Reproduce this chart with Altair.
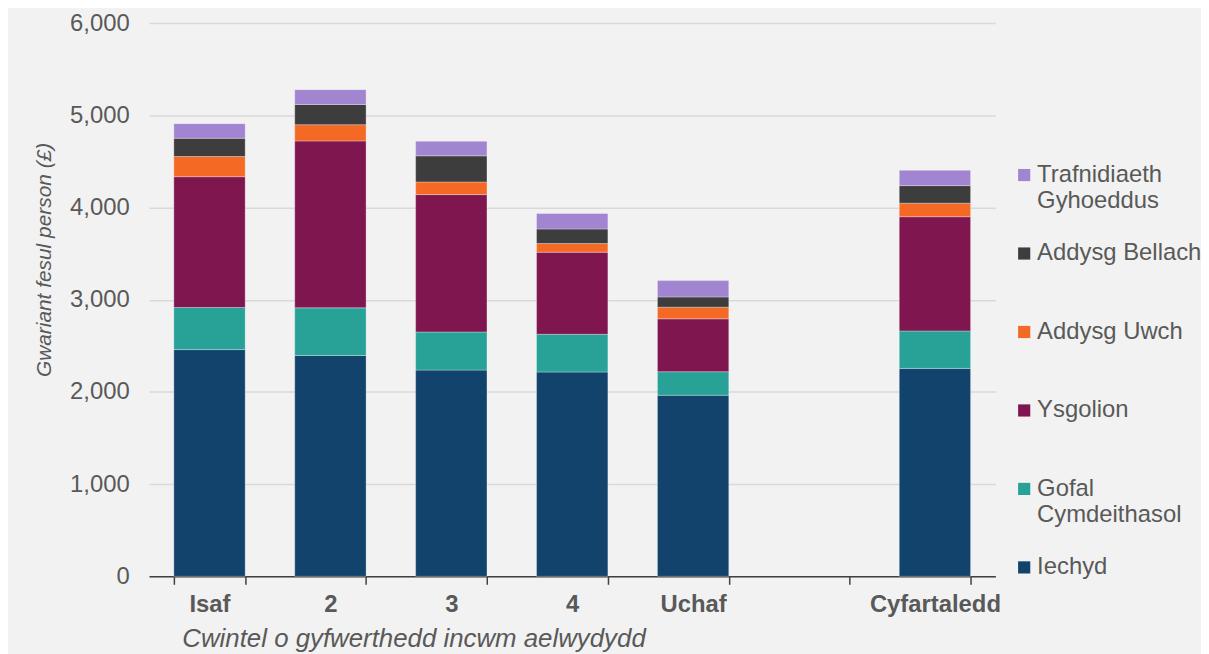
import altair as alt
import pandas as pd

categories = ["Isaf", "2", "3", "4", "Uchaf", "Cyfartaledd"]
x_domain = ["Isaf", "2", "3", "4", "Uchaf", " ", "Cyfartaledd"]

series_names = ["Iechyd", "Gofal Cymdeithasol", "Ysgolion", "Addysg Uwch",
                "Addysg Bellach", "Trafnidiaeth Gyhoeddus"]
iechyd = [2459, 2395, 2237, 2216, 1964, 2255]
gofal = [457, 517, 413, 409, 255, 406]
ysgolion = [1418, 1810, 1490, 890, 574, 1239]
addysg_uwch = [219, 176, 137, 94, 126, 147]
addysg_bellach = [198, 219, 283, 158, 111, 190]
trafnidiaeth = [158, 161, 158, 168, 177, 166]

colors = ["#12436d", "#28a197", "#801650", "#f46a25", "#3d3d3d", "#a285d1"]
y_ticks = [0, 1000, 2000, 3000, 4000, 5000, 6000]

series_values = [iechyd, gofal, ysgolion, addysg_uwch, addysg_bellach, trafnidiaeth]
rows = []
for si, (name, vals) in enumerate(zip(series_names, series_values)):
    for cat, v in zip(categories, vals):
        rows.append({"cat": cat, "series": name, "value": v, "order": si})
df = pd.DataFrame(rows)

FONT = "Liberation Sans"
GREY = "#595959"

legend_domain = list(reversed(series_names))
legend_range = list(reversed(colors))

label_expr = ("(datum.label == 'Trafnidiaeth Gyhoeddus' "
              "|| datum.label == 'Gofal Cymdeithasol') ? split(datum.label, ' ') "
              ": [datum.label, ' ']")

chart = alt.Chart(df).mark_bar(
    stroke="white", strokeWidth=0.6, strokeOpacity=0.5
).encode(
    x=alt.X("cat:N", sort=x_domain,
            scale=alt.Scale(domain=x_domain, paddingInner=0.41, paddingOuter=0.205),
            axis=alt.Axis(title="Cwintel o gyfwerthedd incwm aelwydydd",
                          labelAngle=0, labelFont=FONT, labelFontSize=24,
                          labelFontWeight="bold", labelColor=GREY, labelPadding=8,
                          tickBand="extent", ticks=True, tickSize=8, tickColor="#404040",
                          tickWidth=1.5, domainColor="#404040", domainWidth=1.5,
                          titleFont=FONT, titleFontSize=26, titleFontStyle="italic",
                          titleFontWeight="normal", titleColor=GREY,
                          titleAnchor="start", titleAlign="left", titleX=33,
                          titlePadding=10, grid=False)),
    y=alt.Y("value:Q", stack="zero",
            scale=alt.Scale(domain=[0, 6000], nice=False),
            axis=alt.Axis(title="Gwariant fesul person (£)", values=y_ticks,
                          format=",.0f", labelFont=FONT, labelFontSize=24,
                          labelColor=GREY, labelPadding=20, ticks=False,
                          domain=False, grid=True, gridColor="#d9d9d9",
                          gridWidth=1.5, titleFont=FONT, titleFontSize=21,
                          titleFontStyle="italic", titleFontWeight="normal",
                          titleColor=GREY, titleBaseline="middle",
                          titleX=-105, titleY=238)),
    color=alt.Color("series:N",
                    scale=alt.Scale(domain=legend_domain, range=legend_range),
                    legend=alt.Legend(title=None, orient="none",
                                      legendX=869, legendY=141,
                                      symbolType="square", symbolSize=150,
                                      symbolStrokeWidth=0, labelFont=FONT,
                                      labelFontSize=24, labelColor=GREY,
                                      labelOffset=1, rowPadding=29,
                                      labelLimit=300,
                                      labelExpr=label_expr)),
    order=alt.Order("order:Q", sort="ascending"),
    tooltip=["cat", "series", "value"],
).properties(
    width=852, height=557,
    background="#f2f2f2",
    autosize=alt.AutoSizeParams(type="none"),
    padding={"left": 142, "top": 13, "right": 207, "bottom": 76},
).configure_view(stroke=None)

chart.save("out.html", embed_options={"renderer": "svg", "actions": False})
